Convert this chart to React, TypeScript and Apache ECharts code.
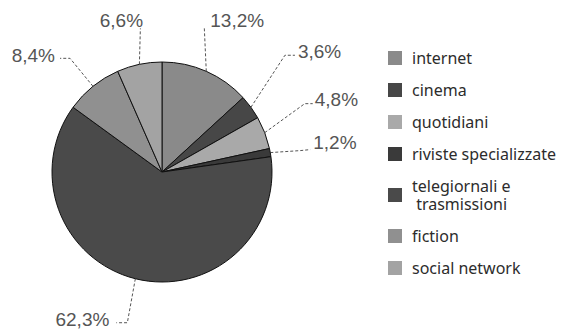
import React, { useEffect, useRef } from "react";
import * as echarts from "echarts";

const categories = [
  "internet",
  "cinema",
  "quotidiani",
  "riviste specializzate",
  "telegiornali e trasmissioni",
  "fiction",
  "social network",
];
const values = [13.2, 3.6, 4.8, 1.2, 62.3, 8.4, 6.6];
const colors = ["#8a8a8a", "#474747", "#a9a9a9", "#3a3a3a", "#4a4a4a", "#909090", "#a3a3a3"];

// label-line layout, offsets relative to the slice's edge point (style only)
const lineElbow = [[-2, -44], [34, -52], [40, -29], [30, -2], [-8, 44], [-23, -28], [1, -36]];
const lineEnd = [[-2, -44], [44, -52], [48, -29], [40, -3], [-19, 44], [-33, -28], [1, -36]];
const labelOffset = [[4, -51], [47, -56], [50, -33], [43, -10], [-26, 41], [-38, -31], [-18, -44]];
const labelAlign = ["left", "left", "left", "left", "right", "right", "center"];

export default function App() {
  const ref = useRef<HTMLDivElement>(null);
  useEffect(() => {
    document.body.style.margin = "0";
    const chart = echarts.init(ref.current!, null, { renderer: "svg" });
    chart.setOption({
      animation: false,
      backgroundColor: "#ffffff",
      legend: {
        orient: "vertical",
        left: 383,
        top: 44,
        itemWidth: 14,
        itemHeight: 14,
        itemGap: 14,
        icon: "rect",
        itemStyle: { borderWidth: 0 },
        data: categories,
        formatter: (n: string) =>
          n === "telegiornali e trasmissioni" ? "{a|telegiornali e}\n{a| trasmissioni}" : "{a|" + n + "}",
        textStyle: {
          fontFamily: "Noto Sans",
          fontSize: 16,
          lineHeight: 18,
          color: "#2c2c2c",
          padding: [0, 0, 0, 5],
          rich: {
            a: { fontFamily: "Noto Sans", fontSize: 16, lineHeight: 18, color: "#2c2c2c" },
          },
        },
      },
      series: [
        {
          type: "pie",
          center: [162, 172],
          radius: [0, 110],
          startAngle: 90,
          clockwise: true,
          avoidLabelOverlap: false,
          data: categories.map((c, i) => ({
            name: c,
            value: values[i],
            itemStyle: { color: colors[i] },
          })),
          itemStyle: { borderColor: "#111", borderWidth: 1 },
          label: {
            formatter: (p: any) => String(p.value).replace(".", ",") + "%",
            fontFamily: "Liberation Sans",
            fontSize: 19,
            color: "#555",
          },
          labelLine: {
            show: true,
            length: 20,
            length2: 8,
            lineStyle: { color: "#555", type: [3, 2], width: 1 },
          },
          labelLayout: (params: any) => {
            const i = params.dataIndex;
            const pts = params.labelLinePoints;
            if (!pts) return {};
            const e = pts[0];
            return {
              x: e[0] + labelOffset[i][0],
              y: e[1] + labelOffset[i][1],
              align: labelAlign[i],
              verticalAlign: "middle",
              labelLinePoints: [
                [e[0], e[1]],
                [e[0] + lineElbow[i][0], e[1] + lineElbow[i][1]],
                [e[0] + lineEnd[i][0], e[1] + lineEnd[i][1]],
              ],
            };
          },
        },
      ],
    });
    return () => chart.dispose();
  }, []);
  return <div ref={ref} style={{ width: 575, height: 330 }} />;
}
